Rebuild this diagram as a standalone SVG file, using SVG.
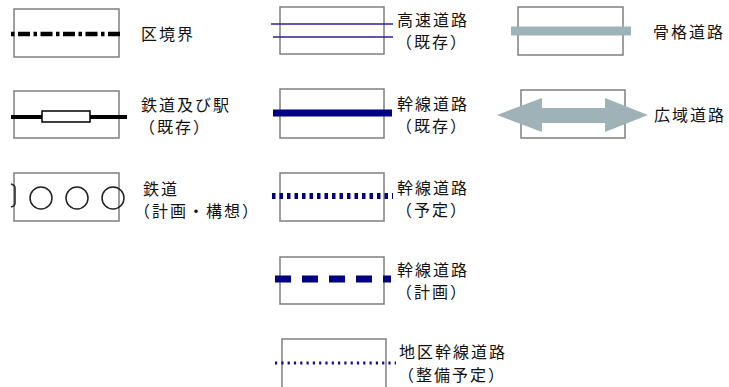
<svg xmlns="http://www.w3.org/2000/svg" width="729" height="387" viewBox="0 0 729 387">
<style>
.box{fill:#fff;stroke:#7f7f7f;stroke-width:1.5}
.t{font-family:"Noto Sans CJK JP","Noto Sans",sans-serif;font-size:16px;letter-spacing:2px;fill:#111}
.navy{stroke:#000080;fill:none}
</style>
<rect width="729" height="387" fill="#fff"/>
<g id="kukyokai">
<rect class="box" x="14" y="9" width="105" height="48"/>
<line x1="11" y1="34" x2="123" y2="34" stroke="#000" stroke-width="4.5" stroke-dasharray="3.5 3.5 12 3.5"/>
<text class="t" x="141" y="40">区境界</text>
</g>
<g id="tetsudo-eki">
<rect class="box" x="14" y="91" width="105" height="47"/>
<line x1="11" y1="117" x2="127" y2="117" stroke="#000" stroke-width="4"/>
<rect x="42" y="111" width="48" height="11" fill="#fff" stroke="#000" stroke-width="1.5"/>
<text class="t"><tspan x="141" y="110.5">鉄道及び駅</tspan><tspan x="139" y="132.5">（既存）</tspan></text>
</g>
<g id="tetsudo-keikaku">
<rect class="box" x="14" y="173" width="105" height="48"/>
<path d="M11,184 Q15,185 15,188 L15,203 Q15,206 11,207" fill="none" stroke="#222" stroke-width="1.5"/>
<g fill="none" stroke="#222" stroke-width="1.5">
<circle cx="41" cy="198" r="11"/>
<circle cx="77" cy="198" r="11"/>
<circle cx="113" cy="198" r="11"/>
</g>
<text class="t"><tspan x="143" y="194.5">鉄道</tspan><tspan x="134" y="216.5">（計画・構想）</tspan></text>
</g>
<g id="kosoku">
<rect class="box" x="280" y="7" width="104" height="47"/>
<line x1="271" y1="24" x2="393" y2="24" stroke="#2d1f9c" stroke-width="1.5"/>
<line x1="273" y1="37" x2="393" y2="37" stroke="#2d1f9c" stroke-width="1.5"/>
<text class="t"><tspan x="397" y="26">高速道路</tspan><tspan x="396" y="48">（既存）</tspan></text>
</g>
<g id="kansen-kizon">
<rect class="box" x="280" y="89" width="104" height="49"/>
<line class="navy" x1="273" y1="113" x2="392" y2="113" stroke-width="7"/>
<text class="t"><tspan x="397" y="109.5">幹線道路</tspan><tspan x="396" y="131.5">（既存）</tspan></text>
</g>
<g id="kansen-yotei">
<rect class="box" x="280" y="173" width="104" height="48"/>
<line class="navy" x1="272" y1="196" x2="393" y2="196" stroke-width="6" stroke-dasharray="3.5 4"/>
<text class="t"><tspan x="397" y="194">幹線道路</tspan><tspan x="396" y="216">（予定）</tspan></text>
</g>
<g id="kansen-keikaku">
<rect class="box" x="280" y="257" width="104" height="47"/>
<line class="navy" x1="275" y1="279" x2="391" y2="279" stroke-width="7" stroke-dasharray="16 11"/>
<text class="t"><tspan x="397" y="275.5">幹線道路</tspan><tspan x="396" y="297.5">（計画）</tspan></text>
</g>
<g id="chiku-kansen">
<rect class="box" x="282" y="339" width="104" height="50"/>
<line x1="275" y1="363" x2="396" y2="363" stroke="#1a0a8f" stroke-width="3" stroke-dasharray="2.2 4.1"/>
<text class="t"><tspan x="399" y="358">地区幹線道路</tspan><tspan x="398" y="381">（整備予定）</tspan></text>
</g>
<g id="kokaku">
<rect class="box" x="518" y="7" width="105" height="48"/>
<line x1="511" y1="31" x2="631" y2="31" stroke="#9eb3b8" stroke-width="9"/>
<text class="t" x="653" y="38">骨格道路</text>
</g>
<g id="koiki">
<rect class="box" x="521" y="90" width="104" height="48"/>
<polygon points="497,115 542,98 542,108 605,108 605,98 648,115 605,132 605,123 542,123 542,132" fill="#9eb2b7"/>
<text class="t" x="654" y="121">広域道路</text>
</g>
<g id="connectors"></g>
</svg>
